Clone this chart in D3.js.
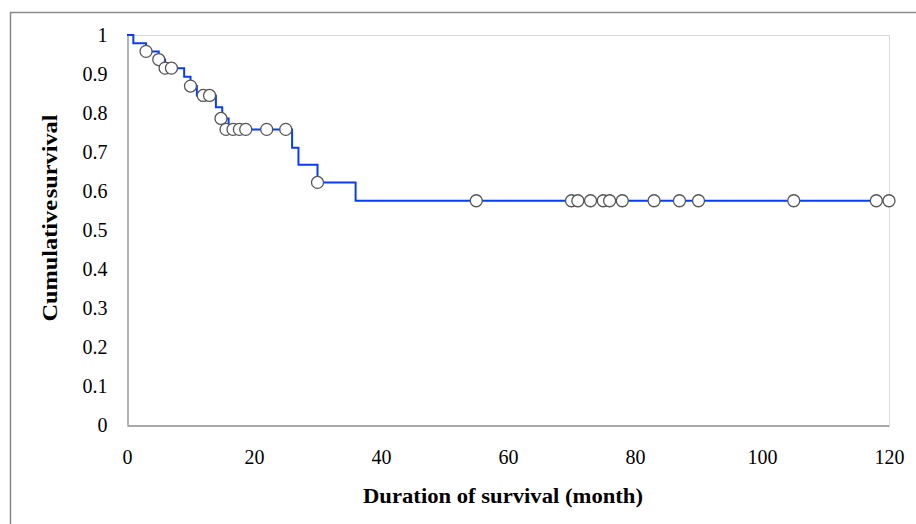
<!DOCTYPE html>
<html>
<head>
<meta charset="utf-8">
<script src="https://cdn.jsdelivr.net/npm/d3@7"></script>
<style>
  body { margin: 0; background: #fff; }
  text { font-family: "Liberation Serif", "Times New Roman", serif; }
</style>
</head>
<body>
<div id="chart"></div>
<script>
/**
 * DATA
 * */
// Kaplan-Meier steps: time (month) where the curve drops, and survival after it
const stepTimes = [0, 1, 3, 5, 6, 9, 10, 11, 14, 15, 16, 26, 27, 30, 36, 120];
const stepSurv = [1, 0.979, 0.958, 0.937, 0.915, 0.893, 0.869, 0.845, 0.815, 0.786, 0.758, 0.711, 0.667, 0.622, 0.575, 0.575];

// censored cases (open circles)
const censorTimes = [3, 5, 6, 7, 10, 12, 13, 14.8, 15.6, 16.7, 17.7, 18.7, 22, 25, 30, 55, 70, 71, 73, 75, 76, 78, 83, 87, 90, 105, 118, 120];
const censorSurv = [0.958, 0.937, 0.915, 0.915, 0.869, 0.845, 0.845, 0.786, 0.758, 0.758, 0.758, 0.758, 0.758, 0.758, 0.622,
  0.575, 0.575, 0.575, 0.575, 0.575, 0.575, 0.575, 0.575, 0.575, 0.575, 0.575, 0.575, 0.575];

const xTicks = [0, 20, 40, 60, 80, 100, 120];
const yTicks = [0, 0.1, 0.2, 0.3, 0.4, 0.5, 0.6, 0.7, 0.8, 0.9, 1];

/**
 * CONSTANTS AND GLOBALS
 * */
const width = 916, height = 524;
const margin = { top: 35, right: 27, bottom: 99, left: 127 };

const svg = d3.select("#chart")
  .append("svg")
  .attr("width", width)
  .attr("height", height);

// outer chart frame (runs off the right / bottom of the picture)
svg.append("rect")
  .attr("x", 10.5)
  .attr("y", 12.5)
  .attr("width", 1000)
  .attr("height", 1000)
  .attr("fill", "none")
  .attr("stroke", "#8a8a8a")
  .attr("stroke-width", 1.5);

const x = d3.scaleLinear()
  .domain([0, 120])
  .range([margin.left, width - margin.right]);

const y = d3.scaleLinear()
  .domain([0, 1])
  .range([height - margin.bottom, margin.top]);

// plot area border (top + right light grey)
svg.append("path")
  .attr("d", `M${x(0)},${y(1) + 0.5}H${x(120) + 0.5}V${y(0)}`)
  .attr("fill", "none")
  .attr("stroke", "#d9d9d9")
  .attr("stroke-width", 1);

// axes
const xAxis = svg.append("g")
  .attr("transform", `translate(0,${y(0) + 0.5})`)
  .call(d3.axisBottom(x).tickValues(xTicks).tickSize(0).tickPadding(24));

const yAxis = svg.append("g")
  .attr("transform", `translate(${x(0) + 0.5},0)`)
  .call(d3.axisLeft(y).tickValues(yTicks).tickSize(0).tickPadding(20)
    .tickFormat(d => String(+d.toFixed(1))));

[xAxis, yAxis].forEach(g => {
  g.select(".domain").attr("stroke", "#8c8c8c").attr("stroke-width", 1.3);
  g.selectAll("text")
    .attr("font-family", "Liberation Serif, Times New Roman, serif")
    .attr("font-size", 20)
    .attr("fill", "#000");
});

// survival curve
const pts = stepTimes.map((t, i) => [t, stepSurv[i]]);
const line = d3.line()
  .x(d => x(d[0]))
  .y(d => y(d[1]))
  .curve(d3.curveStepAfter);

svg.append("path")
  .datum(pts)
  .attr("d", line)
  .attr("fill", "none")
  .attr("stroke", "#0a3cf5")
  .attr("stroke-width", 2);

// censored marks
svg.selectAll(".censor")
  .data(censorTimes.map((t, i) => ({ t: t, s: censorSurv[i] })))
  .join("circle")
  .attr("class", "censor")
  .attr("cx", d => x(d.t))
  .attr("cy", d => y(d.s))
  .attr("r", 6)
  .attr("fill", "#fff")
  .attr("stroke", "#555")
  .attr("stroke-width", 1.3);

// axis titles
svg.append("text")
  .attr("x", 503)
  .attr("y", 503)
  .attr("text-anchor", "middle")
  .attr("font-size", 22)
  .attr("font-weight", "bold")
  .attr("textLength", 280)
  .attr("lengthAdjust", "spacingAndGlyphs")
  .text("Duration of survival (month)");

svg.append("text")
  .attr("transform", "translate(57,218) rotate(-90)")
  .attr("text-anchor", "middle")
  .attr("font-size", 22)
  .attr("font-weight", "bold")
  .attr("word-spacing", -4)
  .attr("textLength", 207)
  .attr("lengthAdjust", "spacingAndGlyphs")
  .text("Cumulative survival");
</script>
</body>
</html>
